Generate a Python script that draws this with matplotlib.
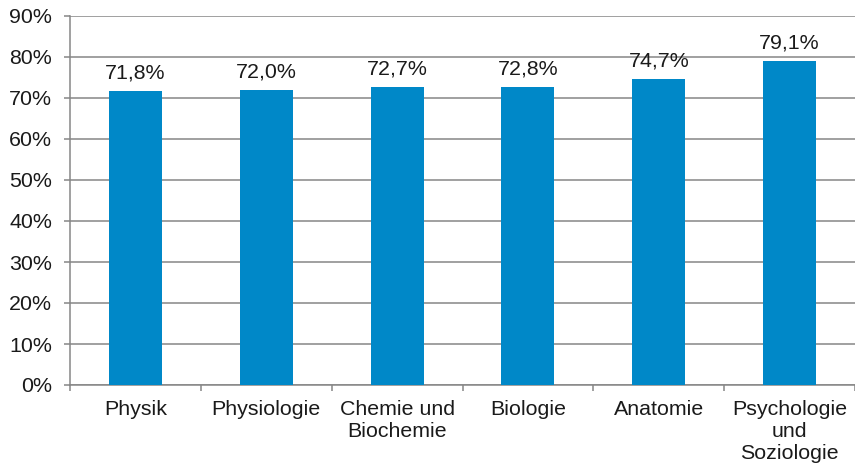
import matplotlib
matplotlib.use("Agg")
import matplotlib.pyplot as plt
import numpy as np

categories = ["Physik", "Physiologie", "Chemie und\nBiochemie", "Biologie", "Anatomie", "Psychologie\nund\nSoziologie"]
values = [71.8, 72.0, 72.7, 72.8, 74.7, 79.1]
value_labels = ["71,8%", "72,0%", "72,7%", "72,8%", "74,7%", "79,1%"]
yticks = [0, 10, 20, 30, 40, 50, 60, 70, 80, 90]
ytick_labels = [f"{v}%" for v in yticks]

plt.rcParams['font.family'] = ['Liberation Sans', 'DejaVu Sans']
grey = "#868686"
text_color = "#1a1a1a"
bar_color = "#0088C8"
fs = 15.4

fig = plt.figure(figsize=(8.55, 4.74), dpi=100)
ax = fig.add_axes([70/855, 1-385/474, 785/855, (385-16)/474])

x = np.arange(len(categories))
ax.bar(x, values, width=0.405, color=bar_color, zorder=3)

for xi, v, lab in zip(x, values, value_labels):
    ax.annotate(lab, (xi, v), xytext=(0, 6), textcoords="offset points",
                ha="center", va="bottom", fontsize=fs, color=text_color)

ax.set_xlim(-0.5, len(categories) - 0.5)
ax.set_ylim(0, 90)
ax.set_yticks(yticks)
ax.set_yticklabels(ytick_labels, fontsize=fs, color=text_color)
ax.yaxis.grid(True, color=grey, linewidth=1.1, zorder=0)
ax.set_axisbelow(True)

ax.set_xticks(np.arange(-0.5, len(categories), 1.0))
ax.set_xticklabels([])
ax.set_xticks(x, minor=True)
ax.set_xticklabels(categories, minor=True, fontsize=fs, color=text_color)
ax.tick_params(axis='x', which='major', length=4.5, width=1.1, color=grey)
ax.tick_params(axis='x', which='minor', length=0, pad=11)
ax.tick_params(axis='y', length=4, width=1.1, color=grey, pad=9)

for s in ["top", "right"]:
    ax.spines[s].set_visible(False)
for s in ["left", "bottom"]:
    ax.spines[s].set_color(grey)
    ax.spines[s].set_linewidth(1.1)

fig.savefig("out.png", dpi=100)
